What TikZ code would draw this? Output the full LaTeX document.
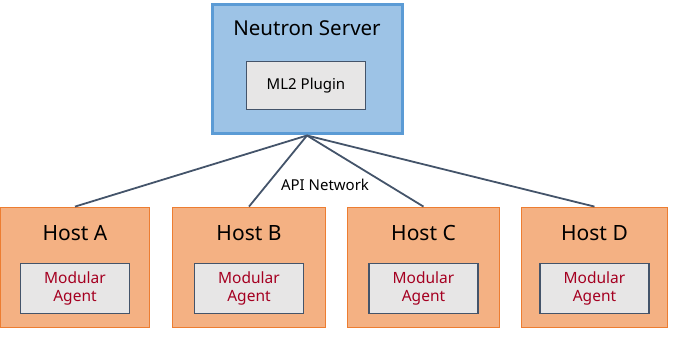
\documentclass[tikz,border=0pt]{standalone}
\usepackage{fontspec}
\setmainfont{Noto Sans}
\definecolor{srvfill}{HTML}{9DC3E6}
\definecolor{srvline}{HTML}{5B9BD5}
\definecolor{hostfill}{HTML}{F4B183}
\definecolor{hostline}{HTML}{ED7D31}
\definecolor{innerfill}{HTML}{E7E6E6}
\definecolor{innerline}{HTML}{44546A}
\definecolor{agenttext}{HTML}{A50021}
\definecolor{linkline}{HTML}{44546A}
\begin{document}
\begin{tikzpicture}[x=1pt,y=-1pt,
  server/.style={draw=srvline,fill=srvfill,line width=3pt,minimum width=190pt,minimum height=129pt,inner sep=0pt},
  host/.style={draw=hostline,fill=hostfill,line width=1.8pt,minimum width=150pt,minimum height=120pt,inner sep=0pt},
  inner/.style={draw=innerline,fill=innerfill,line width=1.8pt,inner sep=0pt},
  title/.style={font=\fontsize{20.5}{24}\selectfont,text=black},
  agent/.style={font=\fontsize{15.5}{17.5}\selectfont,text=agenttext,align=center},
  link/.style={draw=linkline,line width=1.8pt}
]
\useasboundingbox (0,0) rectangle (676,339);
% Neutron server with the ML2 plugin
\node[server] (srv) at (307,69.5) {};
\node[title] (srvt) at (307,28) {Neutron Server};
\node[inner,minimum width=119pt,minimum height=48pt,font=\fontsize{15}{17}\selectfont] (ml2) at (306,85.5) {ML2 Plugin};
% compute hosts
\foreach \n/\x/\w in {A/75/149,B/249/153,C/423.5/152,D/594.5/146}{
  \node[host,minimum width=\w pt] (host\n) at (\x,267.5) {};
  \node[title,font=\fontsize{21}{24}\selectfont] (host\n t) at (\x,233) {Host \n};
  \node[inner,minimum width=109pt,minimum height=50pt,agent] (agent\n) at (\x,288.5) {Modular\\Agent};
}
% API network links
\foreach \n in {A,B,C,D}{
  \draw[link] (srv.south) -- (host\n.north);
}
\node[font=\fontsize{15}{17}\selectfont,text=black] (api) at (325,185) {API Network};
\end{tikzpicture}
\end{document}
